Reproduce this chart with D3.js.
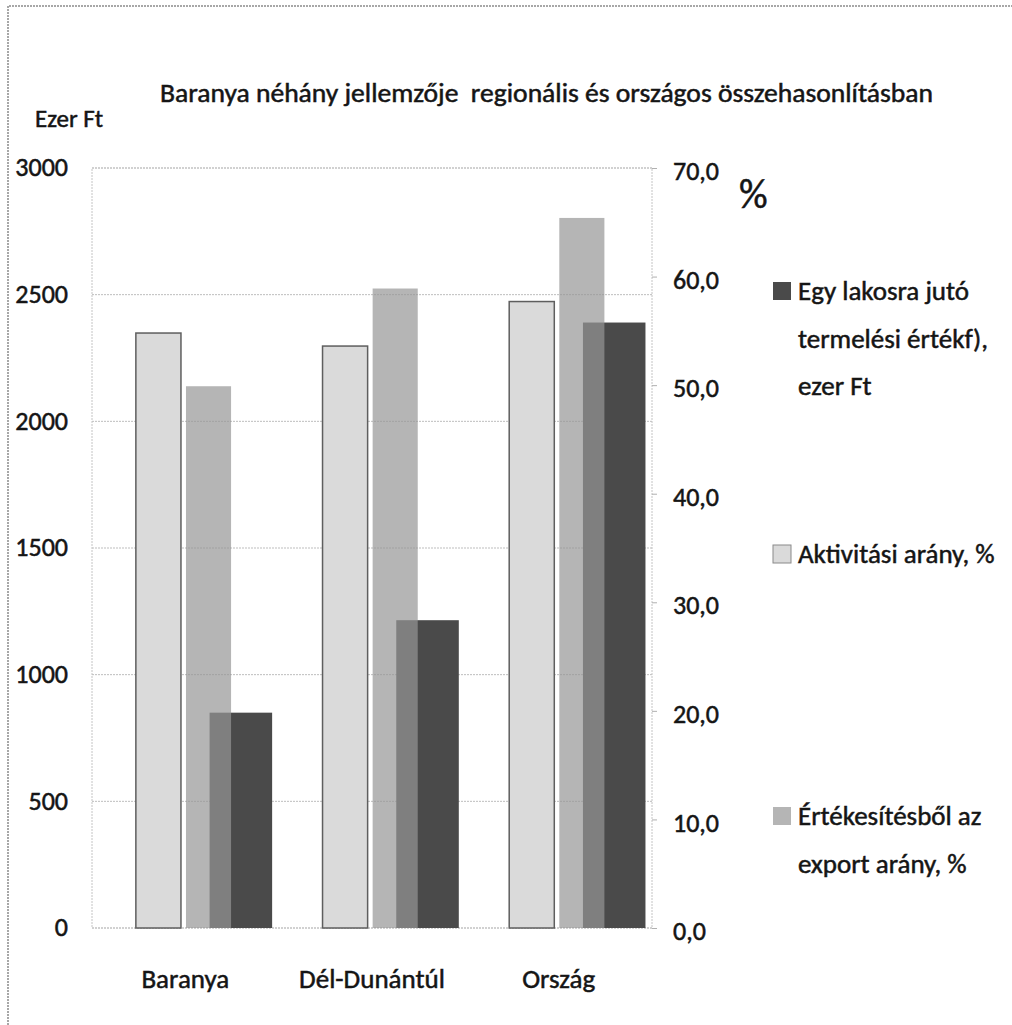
<!DOCTYPE html>
<html>
<head>
<meta charset="utf-8">
<script src="https://cdn.jsdelivr.net/npm/d3@7"></script>
<style>
  body { margin: 0; background: #fff; }
  svg text { font-family: Carlito, Lato, "Open Sans", sans-serif; fill: #151515; stroke: #151515; stroke-width: 0.5px; }
</style>
</head>
<body>
<svg id="viz"></svg>
<script>
// data
const categories = ["Baranya", "Dél-Dunántúl", "Ország"];
const termelesiErtek = [850, 1215, 2390];      // ezer Ft, left axis
const aktivitasiArany = [54.8, 53.6, 57.7];     // %, right axis
const exportArany = [49.9, 58.9, 65.4];         // %, right axis
const leftTicks = [0, 500, 1000, 1500, 2000, 2500, 3000];
const rightTicks = [0, 10, 20, 30, 40, 50, 60, 70];
const legendItems = [
  { lines: ["Egy lakosra jutó", "termelési értékf),", "ezer Ft"], key: "egy" },
  { lines: ["Aktivitási arány, %"], key: "akt" },
  { lines: ["Értékesítésből az", "export arány, %"], key: "exp" }
];

const width = 1012, height = 1025;
const plot = { left: 92, right: 652, top: 168, bottom: 928 };

const svg = d3.select("#viz").attr("width", width).attr("height", height);

// outer frame (only top and left show in the scan)
svg.append("path")
  .attr("d", `M8,${height} L8,6 L${width},6`)
  .attr("fill", "none")
  .attr("stroke", "#8a8a8a")
  .attr("stroke-width", 1.5)
  .attr("stroke-dasharray", "2,1");

const yL = d3.scaleLinear().domain([0, 3000]).range([plot.bottom, plot.top]);
const yR = d3.scaleLinear().domain([0, 70]).range([plot.bottom, plot.top]);
const x0 = d3.scaleBand().domain(categories).range([plot.left, plot.right]);
const bw = x0.bandwidth();
// secondary axis series sit side by side, primary one is offset to the right
const xSec = d3.scaleBand().domain(["akt", "exp"])
  .range([0.235 * bw, 0.745 * bw]).paddingInner(0.1);
const xPri = d3.scaleBand().domain(["egy"]).range([0.63 * bw, 0.965 * bw]);

// gridlines
svg.append("g")
  .selectAll("line")
  .data(leftTicks)
  .join("line")
  .attr("x1", plot.left).attr("x2", plot.right)
  .attr("y1", (d) => yL(d)).attr("y2", (d) => yL(d))
  .attr("stroke", "#bdbdbd")
  .attr("stroke-dasharray", "2,1");

// plot border
svg.append("rect")
  .attr("x", plot.left).attr("y", plot.top)
  .attr("width", plot.right - plot.left).attr("height", plot.bottom - plot.top)
  .attr("fill", "none")
  .attr("stroke", "#c4c4c4")
  .attr("stroke-dasharray", "2,1");

const colors = { egy: "#4a4a4a", akt: "#dadada", exp: "#959595" };

// primary series (drawn first, behind)
svg.append("g")
  .selectAll("rect")
  .data(termelesiErtek)
  .join("rect")
  .attr("x", (d, i) => x0(categories[i]) + xPri("egy"))
  .attr("width", xPri.bandwidth())
  .attr("y", (d) => yL(d))
  .attr("height", (d) => yL(0) - yL(d))
  .attr("fill", colors.egy);

// secondary series
svg.append("g")
  .selectAll("rect")
  .data(aktivitasiArany)
  .join("rect")
  .attr("x", (d, i) => x0(categories[i]) + xSec("akt"))
  .attr("width", xSec.bandwidth())
  .attr("y", (d) => yR(d))
  .attr("height", (d) => yR(0) - yR(d))
  .attr("fill", colors.akt)
  .attr("stroke", "#5e5e5e")
  .attr("stroke-width", 1.5);

svg.append("g")
  .selectAll("rect")
  .data(exportArany)
  .join("rect")
  .attr("x", (d, i) => x0(categories[i]) + xSec("exp"))
  .attr("width", xSec.bandwidth())
  .attr("y", (d) => yR(d))
  .attr("height", (d) => yR(0) - yR(d))
  .attr("fill", colors.exp)
  .attr("fill-opacity", 0.7);

// left axis
const leftAxis = svg.append("g")
  .attr("transform", `translate(${plot.left - 24},0)`)
  .call(d3.axisLeft(yL).tickValues(leftTicks).tickFormat(d3.format("d"))
    .tickSize(0).tickPadding(0));
leftAxis.select(".domain").remove();
leftAxis.selectAll("text")
  .attr("dy", "0.3em")
  .style("font-size", "26px")
  .style("font-family", "Carlito, Lato, sans-serif");

// right axis
const rightAxis = svg.append("g")
  .attr("transform", `translate(${plot.right},0)`)
  .call(d3.axisRight(yR).tickValues(rightTicks)
    .tickFormat((d) => d3.format(".1f")(d).replace(".", ","))
    .tickSize(5).tickPadding(16));
rightAxis.select(".domain").remove();
rightAxis.selectAll("line").attr("stroke", "#b0b0b0");
rightAxis.selectAll("text")
  .attr("dy", "0.45em")
  .style("font-size", "26px")
  .style("font-family", "Carlito, Lato, sans-serif");

// category labels
svg.append("g")
  .selectAll("text")
  .data(categories)
  .join("text")
  .attr("x", (d) => x0(d) + bw / 2)
  .attr("y", 988)
  .attr("text-anchor", "middle")
  .style("font-size", "27px")
  .text((d) => d);

// titles
svg.append("text")
  .attr("x", 160).attr("y", 102)
  .attr("textLength", 773)
  .attr("lengthAdjust", "spacingAndGlyphs")
  .style("font-size", "26px")
  .style("white-space", "pre")
  .text("Baranya néhány jellemzője  regionális és országos összehasonlításban");

svg.append("text")
  .attr("x", 35).attr("y", 127)
  .style("font-size", "25px")
  .text("Ezer Ft");

svg.append("text")
  .attr("x", 739).attr("y", 208)
  .style("font-size", "40px")
  .text("%");

// legend
const legendPos = [300, 563, 825];
const legend = svg.append("g");
legendItems.forEach((item, i) => {
  const g = legend.append("g").attr("transform", `translate(773,${legendPos[i]})`);
  g.append("rect")
    .attr("x", 0).attr("y", -18)
    .attr("width", 18).attr("height", 18)
    .attr("fill", colors[item.key])
    .attr("fill-opacity", item.key === "exp" ? 0.7 : 1)
    .attr("stroke", item.key === "akt" ? "#8a8a8a" : "none");
  g.selectAll("text")
    .data(item.lines)
    .join("text")
    .attr("x", 25)
    .attr("y", (d, j) => j * 47.5)
    .style("font-size", "27px")
    .text((d) => d);
});
</script>
</body>
</html>
